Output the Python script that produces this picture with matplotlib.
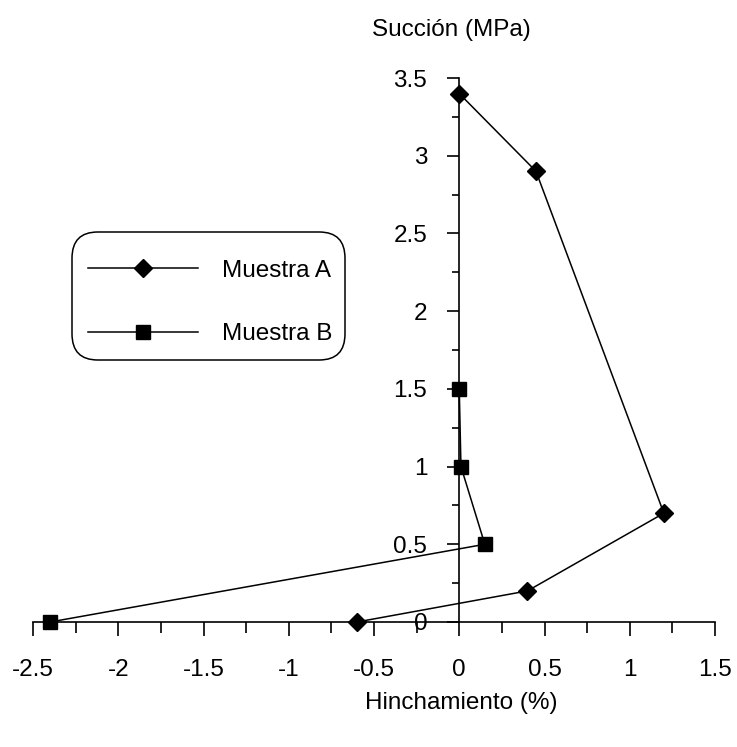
import matplotlib
matplotlib.use("Agg")
import matplotlib.pyplot as plt
from matplotlib.ticker import MultipleLocator
from matplotlib.patches import FancyBboxPatch

plt.rcParams['font.family'] = ['Liberation Sans', 'DejaVu Sans']

xa = [-0.6, 0.4, 1.2, 0.45, 0.0]
ya = [0.0, 0.2, 0.7, 2.9, 3.4]
xb = [-2.4, 0.15, 0.01, 0.0]
yb = [0.0, 0.5, 1.0, 1.5]
labels = ["Muestra A", "Muestra B"]
xlabel = "Hinchamiento (%)"
ylabel = "Succión (MPa)"

FS = 17.5
fig = plt.figure(figsize=(7.37, 7.47), dpi=100)
ax = fig.add_axes([33/737, 1-622/747, (715-33)/737, (622-78)/747])

la, = ax.plot(xa, ya, color='black', lw=1.1, marker='D', ms=9.3, clip_on=False, zorder=3)
lb, = ax.plot(xb, yb, color='black', lw=1.1, marker='s', ms=10, clip_on=False, zorder=3)

ax.set_xlim(-2.5, 1.5)
ax.set_ylim(0, 3.5)
ax.spines['top'].set_visible(False)
ax.spines['right'].set_visible(False)
ax.spines['left'].set_position(('data', 0))
ax.spines['bottom'].set_position(('data', 0))
for s in ['left', 'bottom']:
    ax.spines[s].set_linewidth(1.2)

ax.xaxis.set_major_locator(MultipleLocator(0.5))
ax.xaxis.set_minor_locator(MultipleLocator(0.25))
ax.yaxis.set_major_locator(MultipleLocator(0.5))
ax.yaxis.set_minor_locator(MultipleLocator(0.25))
ax.tick_params(which='both', direction='out', width=1.2, labelsize=FS)
ax.tick_params(axis='x', which='major', length=10, pad=17)
ax.tick_params(axis='x', which='minor', length=8)
ax.tick_params(axis='y', which='major', length=9, pad=14)
ax.tick_params(axis='y', which='minor', length=5)
ax.set_xticklabels([f"{v:g}" for v in ax.get_xticks()])
ax.set_yticklabels([f"{v:g}" for v in ax.get_yticks()])

fig.text(451/737, 1-30/747, ylabel, ha='center', va='center', fontsize=FS)
fig.text(461/737, 1-703/747, xlabel, ha='center', va='center', fontsize=FS)

# legend box
box = FancyBboxPatch((72/737, 1-360/747), (345-72)/737, (360-232)/747,
                     boxstyle='round,pad=0,rounding_size=0.035', transform=fig.transFigure,
                     facecolor='white', edgecolor='black', lw=1.1, zorder=4)
fig.patches.append(box)
leg = fig.legend([la, lb], labels, loc='center left', bbox_to_anchor=(64/737, 1-302.5/747),
                 fontsize=FS, handlelength=4.5, handletextpad=1.0, labelspacing=1.7,
                 borderpad=0.5, frameon=False)
leg.set_zorder(6)

fig.savefig('out.png', dpi=100)
